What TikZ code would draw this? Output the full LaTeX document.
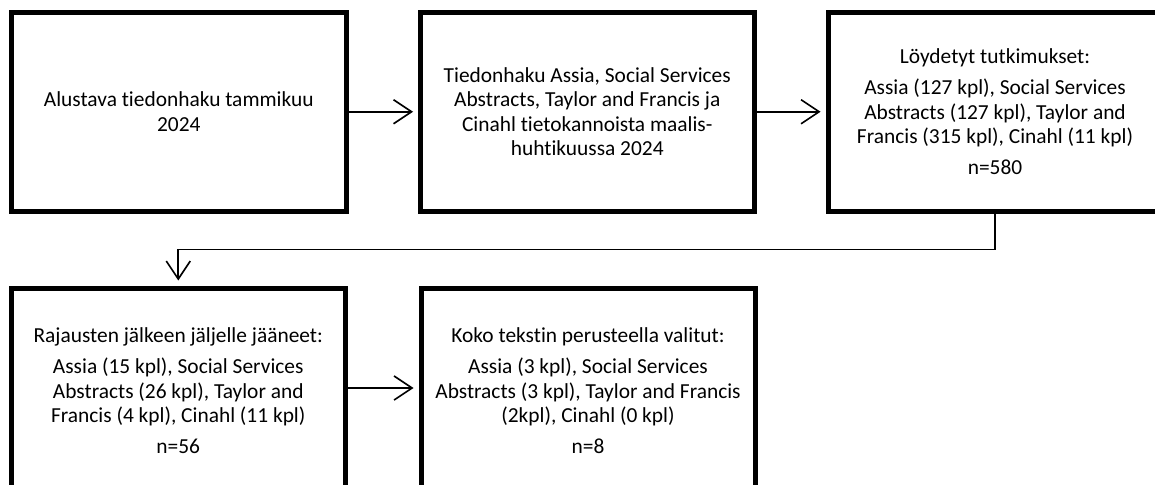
\documentclass[tikz,border=0pt]{standalone}
\usepackage{fontspec}
\setmainfont{Carlito}[Ligatures=NoCommon]
\usetikzlibrary{arrows.meta}
\tikzset{
  box/.style={draw=black, line width=5pt, rectangle, minimum height=198.5pt, align=center, inner sep=0pt, font=\fontsize{21.4}{24.4}\selectfont},
  conn/.style={line width=1.6pt, -{Straight Barb[length=18pt,width=24pt,line width=1.6pt]}, shorten >=5pt},
}
\begin{document}
\begin{tikzpicture}[x=1pt,y=1pt]
\useasboundingbox (0,0) rectangle (1155,-484);
\clip (0,0) rectangle (1155,-484);
\node[box, minimum width=334.5pt] (b1) at (178.75,-111.75) {Alustava tiedonhaku tammikuu\\2024};
\node[box, minimum width=333.5pt] (b2) at (587.25,-111.75) {Tiedonhaku Assia, Social Services\\Abstracts, Taylor and Francis ja\\Cinahl tietokannoista maalis-\\huhtikuussa 2024};
\node[box, minimum width=334pt] (b3) at (995,-111.75) {Löydetyt tutkimukset:\\[6.6pt]Assia (127 kpl), Social Services\\Abstracts (127 kpl), Taylor and\\Francis (315 kpl), Cinahl (11 kpl)\\[6.6pt]n=580};
\node[box, minimum width=333.5pt, minimum height=206pt] (b4) at (178.25,-391) {Rajausten jälkeen jäljelle jääneet:\\[6.6pt]Assia (15 kpl), Social Services\\Abstracts (26 kpl), Taylor and\\Francis (4 kpl), Cinahl (11 kpl)\\[6.6pt]n=56};
\node[box, minimum width=334pt, minimum height=206pt] (b5) at (588,-391) {Koko tekstin perusteella valitut:\\[6.6pt]Assia (3 kpl), Social Services\\Abstracts (3 kpl), Taylor and Francis\\(2kpl), Cinahl (0 kpl)\\[6.6pt]n=8};
\draw[conn] (b1) -- (b2);
\draw[conn] (b2) -- (b3);
\coordinate (bend) at (995,-249.5);
\draw[conn] (b3.south) -- (bend) -| (b4.north);
\draw[conn] ([yshift=3pt]b4.east) -- ([yshift=3pt]b5.west);
\end{tikzpicture}
\end{document}
